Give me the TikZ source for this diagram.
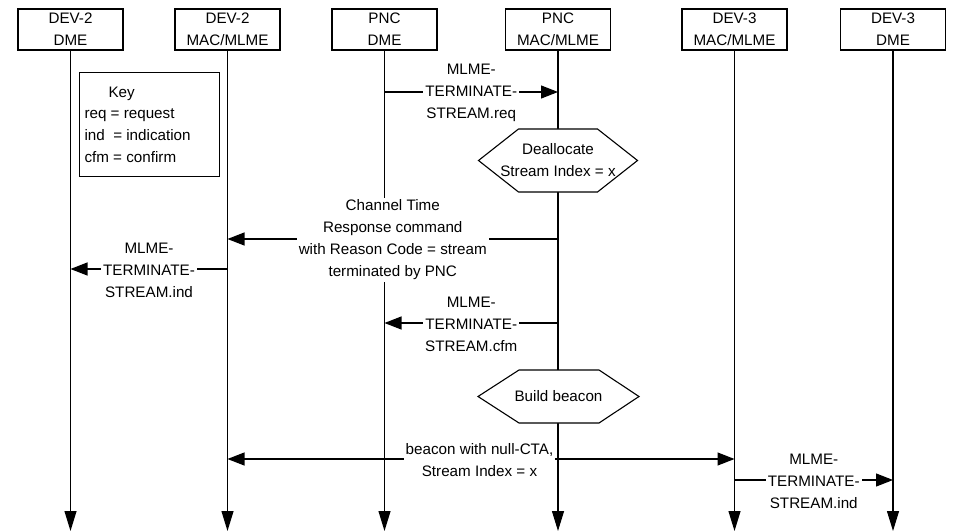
\documentclass[tikz,border=0pt]{standalone}
\usepackage{fontspec}
\setmainfont{Liberation Sans}
\usetikzlibrary{arrows.meta}
\newcommand\dfont{\fontsize{15.2}{22}\selectfont}
\begin{document}
\begin{tikzpicture}[x=1pt,y=-1pt,line width=1.1pt,
  hdr/.style={draw,fill=white,minimum width=105pt,minimum height=41pt,inner sep=0pt,align=center,font=\dfont},
  lbl/.style={fill=white,inner sep=2pt,align=center,font=\dfont,yshift=-1pt},
  plain/.style={inner sep=0pt,align=center,font=\dfont},
  keyline/.style={inner sep=0pt,anchor=base west,font=\dfont},
  msg/.style={-{Triangle[length=17pt,width=13pt]}},
  life/.style={-{Triangle[length=20pt,width=12pt]}},
  hexa/.style={draw,fill=white,line join=miter}]
\useasboundingbox (0,0) rectangle (955,532);
% header boxes
\node[hdr] (h1) at (70.5,29.5) {DEV-2\\DME};
\node[hdr] (h2) at (227.5,29.5) {DEV-2\\MAC/MLME};
\node[hdr] (h3) at (384.5,29.5) {PNC\\DME};
\node[hdr] (h4) at (558,29.5) {PNC\\MAC/MLME};
\node[hdr] (h5) at (734.5,29.5) {DEV-3\\MAC/MLME};
\node[hdr] (h6) at (893,29.5) {DEV-3\\DME};
% lifelines
\coordinate (e1) at (70.5,531);
\coordinate (e2) at (227.5,531);
\coordinate (e3) at (384.5,531);
\coordinate (e4) at (558,531);
\coordinate (e5) at (734.5,531);
\coordinate (e6) at (893,531);
\draw[life] (h1.south) -- (e1);
\draw[life] (h2.south) -- (e2);
\draw[life] (h3.south) -- (e3);
\draw[life] (h4.south) -- (e4);
\draw[life] (h5.south) -- (e5);
\draw[life] (h6.south) -- (e6);
% key
\node[draw,fill=white,minimum width=140pt,minimum height=104pt,inner sep=0pt,anchor=north west] (key) at (79,72) {};
\node[keyline] (k1) at (108,97.8) {Key};
\node[keyline] (k2) at (84,118.8) {req = request};
\node[keyline] (k3) at (84,140.5) {ind\ \ = indication};
\node[keyline] (k4) at (84,162.2) {cfm = confirm};
% message 1
\draw[msg] (h3 |- 0,92) -- node[lbl] (m1) {MLME-\\TERMINATE-\\STREAM.req} (h4 |- 0,92);
% hexagon 1
\draw[hexa] (478.5,160.5) -- (518.5,129) -- (597.5,129) -- (637.5,160.5) -- (597.5,192) -- (518.5,192) -- cycle;
\node[plain] (x1) at (558,160.5) {Deallocate\\Stream Index = x};
% message 2
\draw[msg] (h4 |- 0,239) -- node[lbl] (m2) {Channel Time\\Response command\\with Reason Code = stream\\terminated by PNC} (h2 |- 0,239);
% message 3
\draw[msg] (h2 |- 0,269) -- node[lbl] (m3) {MLME-\\TERMINATE-\\STREAM.ind} (h1 |- 0,269);
% message 4
\draw[msg] (h4 |- 0,323) -- node[lbl] (m4) {MLME-\\TERMINATE-\\STREAM.cfm} (h3 |- 0,323);
% hexagon 2
\draw[hexa] (478,396.5) -- (519,370) -- (599,370) -- (639,396.5) -- (599,423) -- (519,423) -- cycle;
\node[plain] (x2) at (558.5,396) {Build beacon};
% beacon
\coordinate (b0) at (h4 |- 0,459);
\draw[msg] (b0) -- (h2 |- 0,459);
\draw[msg] (b0) -- (h5 |- 0,459);
\node[lbl,inner sep=1.5pt] (m5) at (479.5,459) {beacon with null-CTA,\\Stream Index = x};
% message DEV-3
\draw[msg] (h5 |- 0,480) -- node[lbl] (m6) {MLME-\\TERMINATE-\\STREAM.ind} (h6 |- 0,480);
\end{tikzpicture}
\end{document}
